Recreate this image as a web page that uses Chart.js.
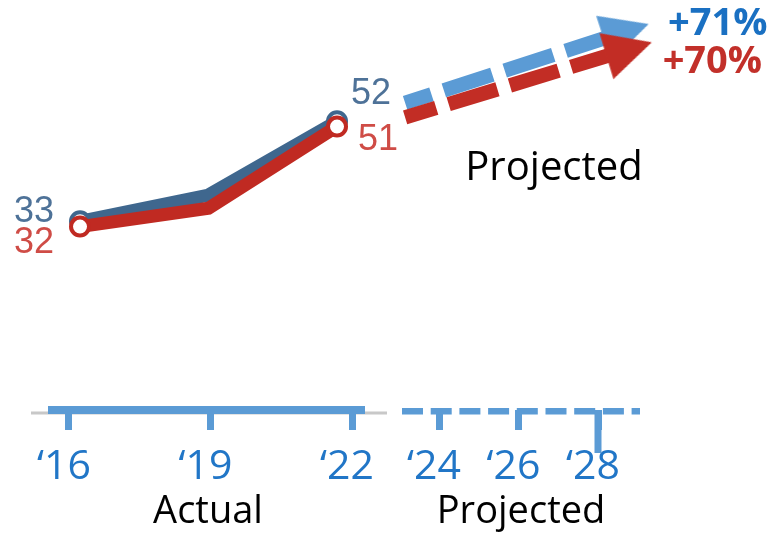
<!DOCTYPE html>
<html>
<head>
<meta charset="utf-8">
<script src="https://cdn.jsdelivr.net/npm/chart.js@4/dist/chart.umd.min.js"></script>
<style>
html,body{margin:0;padding:0;background:#fff;}
#wrap{width:780px;height:537px;position:relative;}
</style>
</head>
<body>
<div id="wrap"><canvas id="c" width="780" height="537"></canvas></div>
<script>
// ---- data ----
const actualYears = [2016, 2019, 2022];
const blueValues = [33, 38, 52];
const redValues = [32, 35.5, 51];
const projectedTickYears = [2024, 2026, 2028];
const blueArrowYears = [2023.59, 2028.75];
const blueArrowValues = [55.5, 69.1];
const redArrowYears = [2023.59, 2028.82];
const redArrowValues = [52.75, 65.7];
const blueChange = '+71%';
const redChange = '+70%';
const axisTitles = ['Actual', 'Projected'];
const projectedNote = 'Projected';

// ---- styles ----
const C = {
  blueLine: '#3f678e', redLine: '#c02a22',
  blueArrow: '#5b9bd5', redArrow: '#c22d25',
  blueLabel: '#4e7298', redLabel: '#cf4c46',
  axis: '#5b9bd5', tickLabel: '#2176c7',
  pctBlue: '#1a70c2', pctRed: '#c2302a', gray: '#c8c8c8'
};
const OPEN = '"Open Sans", "Noto Sans", sans-serif';

function arrowHead(color) {
  const c = document.createElement('canvas');
  c.width = 48; c.height = 48;
  const g = c.getContext('2d');
  g.fillStyle = color;
  g.beginPath();
  g.moveTo(0.3, 0); g.lineTo(47.7, 24); g.lineTo(0.3, 48);
  g.closePath(); g.fill();
  return c;
}
const blueHead = arrowHead(C.blueArrow);
const redHead = arrowHead(C.redArrow);

const toXY = (xs, ys) => xs.map((x, i) => ({x: x, y: ys[i]}));
const lastOnly = r => ctx => (ctx.dataIndex === ctx.dataset.data.length - 1 ? r : 0);
const endsOnly = r => ctx => (ctx.dataIndex === 0 || ctx.dataIndex === ctx.dataset.data.length - 1 ? r : 0);
function arrowAngle(ctx) {
  const s = ctx.chart.scales, d = ctx.dataset.data;
  const a = d[0], b = d[d.length - 1];
  const dx = s.x.getPixelForValue(b.x) - s.x.getPixelForValue(a.x);
  const dy = s.y.getPixelForValue(b.y) - s.y.getPixelForValue(a.y);
  return Math.atan2(dy, dx) * 180 / Math.PI;
}

function lineSet(data, color, order) {
  return {
    data: data, borderColor: color, borderWidth: 13, tension: 0,
    borderJoinStyle: 'miter',
    pointRadius: endsOnly(9), pointBorderWidth: 4,
    pointBackgroundColor: '#ffffff', pointBorderColor: color,
    order: order
  };
}
function arrowSet(data, color, head, dashOffset, order) {
  return {
    data: data, borderColor: color, borderWidth: 14.5, tension: 0,
    borderDash: [51, 13], borderDashOffset: dashOffset, borderCapStyle: 'butt',
    pointStyle: head, pointRadius: lastOnly(24), pointBorderWidth: 0,
    pointRotation: arrowAngle, order: order
  };
}

const fitAxis = s => { s.height = 127; s.paddingLeft = 0; s.paddingRight = 0; };
const tickFont = {family: OPEN, size: 41, lineHeight: 1};
const titleFont = {family: OPEN, size: 38, lineHeight: 1};
const yearLabel = v => '\u2018' + String(v).slice(2);

function yearAxis(weight, stackWeight, min, max, years, title, showBorder) {
  return {
    type: 'linear', position: 'bottom', stack: 'timeline', stackWeight: stackWeight, weight: weight,
    bounds: 'data', min: min, max: max,
    afterBuildTicks: s => { s.ticks = years.map(v => ({value: v})); },
    afterFit: fitAxis,
    ticks: {autoSkip: false, maxRotation: 0, minRotation: 0, padding: 17, labelOffset: -5,
            color: C.tickLabel, font: tickFont, callback: yearLabel},
    grid: {display: true, drawOnChartArea: false, drawTicks: true, tickLength: 20,
           tickWidth: 7, tickColor: C.axis, color: 'rgba(0,0,0,0)'},
    border: {display: showBorder, width: 8, color: C.axis},
    title: {display: true, text: title, color: '#000', font: titleFont, padding: {top: 0, bottom: 6}}
  };
}
function spacer(weight, stackWeight) {
  return {
    type: 'linear', position: 'bottom', stack: 'timeline', stackWeight: stackWeight, weight: weight,
    afterFit: fitAxis, ticks: {display: false}, grid: {display: false}, border: {display: false}
  };
}

const decor = {
  id: 'decor',
  beforeDraw(chart) {
    const ctx = chart.ctx, xa = chart.scales.xa;
    ctx.save();
    ctx.strokeStyle = C.gray; ctx.lineWidth = 3;
    ctx.beginPath();
    ctx.moveTo(xa.left - 21, xa.top + 3); ctx.lineTo(xa.right + 23, xa.top + 3);
    ctx.stroke();
    ctx.restore();
  },
  afterDraw(chart) {
    const ctx = chart.ctx, xp = chart.scales.xp;
    ctx.save();
    // dashed projected axis line
    ctx.strokeStyle = C.axis; ctx.lineWidth = 6.5;
    ctx.setLineDash([21, 7.7]);
    ctx.beginPath();
    ctx.moveTo(xp.left - 3.5, xp.top + 1.2); ctx.lineTo(xp.right + 3.5, xp.top + 1.2);
    ctx.stroke();
    ctx.setLineDash([]);
    // long tick at the final projected year
    const lx = xp.getPixelForValue(projectedTickYears[projectedTickYears.length - 1]);
    ctx.lineWidth = 7;
    ctx.beginPath(); ctx.moveTo(lx, xp.top); ctx.lineTo(lx, xp.top + 43); ctx.stroke();

    // value labels at the ends of the actual lines
    const blue = chart.getDatasetMeta(2).data, red = chart.getDatasetMeta(0).data;
    ctx.font = '36px "Liberation Sans", Arial, sans-serif';
    ctx.textAlign = 'center'; ctx.textBaseline = 'middle';
    ctx.fillStyle = C.blueLabel;
    ctx.fillText(String(blueValues[0]), blue[0].x - 46, blue[0].y - 9.6);
    ctx.fillText(String(blueValues[blueValues.length - 1]), blue[blue.length - 1].x + 34, blue[blue.length - 1].y - 27.3);
    ctx.fillStyle = C.redLabel;
    ctx.fillText(String(redValues[0]), red[0].x - 46, red[0].y + 16.4);
    ctx.fillText(String(redValues[redValues.length - 1]), red[red.length - 1].x + 41, red[red.length - 1].y + 13);

    // change labels at the arrow heads
    const bh = chart.getDatasetMeta(3).data, rh = chart.getDatasetMeta(1).data;
    const bEnd = bh[bh.length - 1], rEnd = rh[rh.length - 1];
    ctx.font = 'bold 38px ' + OPEN;
    ctx.textBaseline = 'alphabetic';
    ctx.fillStyle = C.pctBlue;
    ctx.fillText(blueChange, bEnd.x + 91.6, bEnd.y + 4);
    ctx.fillStyle = C.pctRed;
    ctx.fillText(redChange, rEnd.x + 83.2, rEnd.y + 23.7);

    // "Projected" note
    ctx.font = '40px ' + OPEN;
    ctx.fillStyle = '#000';
    ctx.fillText(projectedNote, 554, 180);
    ctx.restore();
  }
};

new Chart(document.getElementById('c'), {
  type: 'line',
  data: {
    datasets: [
      lineSet(toXY(actualYears, redValues), C.redLine, 1),
      arrowSet(toXY(redArrowYears, redArrowValues), C.redArrow, redHead, 18.5, 1),
      lineSet(toXY(actualYears, blueValues), C.blueLine, 2),
      arrowSet(toXY(blueArrowYears, blueArrowValues), C.blueArrow, blueHead, 23.3, 2)
    ]
  },
  options: {
    responsive: false, animation: false, events: [],
    layout: {autoPadding: false, padding: {left: 52, right: 0, top: 0, bottom: 0}},
    plugins: {legend: {display: false}, tooltip: {enabled: false}, title: {display: false}},
    scales: {
      x: {type: 'linear', display: false, bounds: 'data', min: 2015.346, max: 2032.342},
      y: {type: 'linear', display: false, bounds: 'data', min: -2.85, max: 75.05},
      xa: yearAxis(1, 312, 2015.6396, 2022.2544, actualYears, axisTitles[0], true),
      xgap: spacer(2, 41.5),
      xp: yearAxis(3, 231, 2023.157, 2028.9686, projectedTickYears, axisTitles[1], false),
      xrest: spacer(4, 143.5)
    }
  },
  plugins: [decor]
});
</script>
</body>
</html>
